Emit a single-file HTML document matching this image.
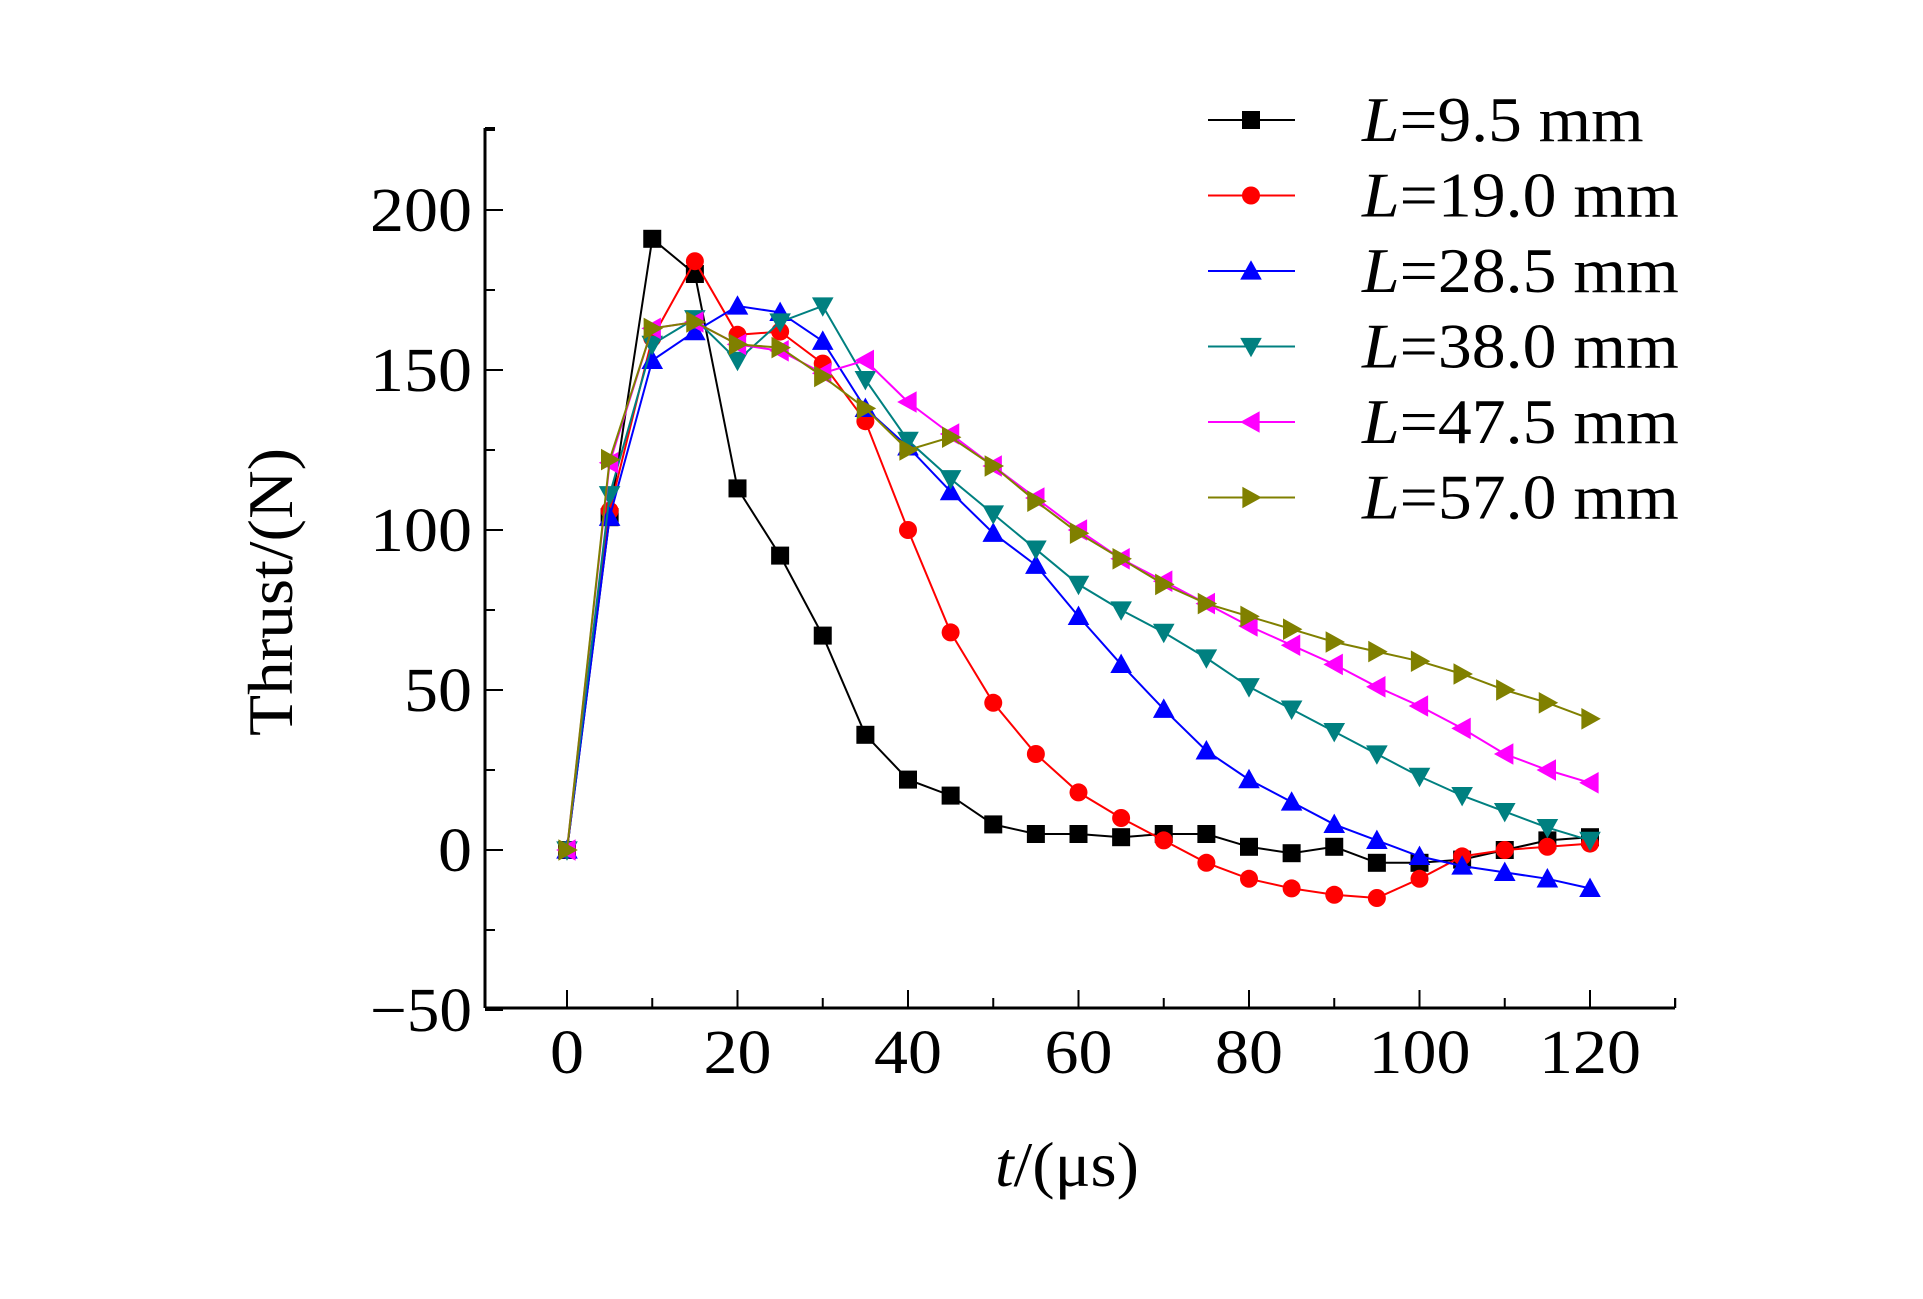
<!DOCTYPE html>
<html><head><meta charset="utf-8"><style>
html,body{margin:0;padding:0;background:#fff}
svg{display:block}
text{font-family:"Liberation Serif",serif;fill:#000}
</style></head><body>
<svg id="chart" width="1923" height="1299" viewBox="0 0 1923 1299" xmlns="http://www.w3.org/2000/svg"></svg>
<script>
const times = [0,5,10,15,20,25,30,35,40,45,50,55,60,65,70,75,80,85,90,95,100,105,110,115,120];
const s95 = [0,104,191,180,113,92,67,36,22,17,8,5,5,4,5,5,1,-1,1,-4,-4,-3,0,3,4];
const s190 = [0,106,160,184,161,162,152,134,100,68,46,30,18,10,3,-4,-9,-12,-14,-15,-9,-2,0,1,2];
const s285 = [0,104,153,162,170,168,159,138,126,112,99,89,73,58,44,31,22,15,8,3,-2,-5,-7,-9,-12];
const s380 = [0,111,158,166,153,165,170,147,128,116,105,94,83,75,68,60,51,44,37,30,23,17,12,7,3];
const s475 = [0,121,163,165,158,156,149,153,140,130,120,110,100,91,84,77,70,64,58,51,45,38,30,25,21];
const s570 = [0,122,163,165,158,157,148,138,125,129,120,109,99,91,83,77,73,69,65,62,59,55,50,46,41];
const seriesLabels = ["9.5","19.0","28.5","38.0","47.5","57.0"];
const yTicks = [-50,0,50,100,150,200];
const xTicks = [0,20,40,60,80,100,120];

const series = [
 {v:s95,c:"#000000",m:"square",n:"series-9-5mm"},
 {v:s190,c:"#ff0000",m:"circle",n:"series-19-0mm"},
 {v:s285,c:"#0000ff",m:"up",n:"series-28-5mm"},
 {v:s380,c:"#008080",m:"down",n:"series-38-0mm"},
 {v:s475,c:"#ff00ff",m:"left",n:"series-47-5mm"},
 {v:s570,c:"#808000",m:"right",n:"series-57-0mm"}
];
const X0=567,XS=(1590-567)/120, Y0=850, YS=(850-210)/200;
const xp=t=>X0+t*XS, yp=v=>Y0-v*YS;
const L=485,R=1675,T=128,B=1008;
const svg=document.getElementById('chart');
const NS="http://www.w3.org/2000/svg";
function el(tag,attrs,parent){const e=document.createElementNS(NS,tag);for(const k in attrs)e.setAttribute(k,attrs[k]);(parent||svg).appendChild(e);return e;}

const axes=el('g',{});


const ya=el('line',{x1:L,y1:T,x2:L,y2:B,stroke:'#000','stroke-width':3},axes);


const xa=el('line',{x1:L,y1:B,x2:R,y2:B,stroke:'#000','stroke-width':3},axes);


el('line',{x1:L,y1:T,x2:L+10,y2:T,stroke:'#000','stroke-width':2},axes);
for(let v=-50;v<=225;v+=25){
  const major=v%50===0;
  el('line',{x1:L,y1:yp(v),x2:L+(major?18:10),y2:yp(v),stroke:'#000','stroke-width':2},axes);
}
yTicks.forEach(v=>{
  const s=v<0?'\u2212'+(-v):String(v);
  const t=el('text',{x:L-13,y:yp(v)+21,'text-anchor':'end','font-size':62,textLength:s.length*34,lengthAdjust:'spacingAndGlyphs'},axes);
  
  
  t.textContent=s;
});
for(let v=0;v<=130;v+=10){
  const major=v%20===0;
  el('line',{x1:xp(v),y1:B,x2:xp(v),y2:B-(major?18:10),stroke:'#000','stroke-width':2},axes);
}
el('line',{x1:R,y1:B,x2:R,y2:B-10,stroke:'#000','stroke-width':2},axes);
xTicks.forEach(v=>{
  const s=String(v);
  const t=el('text',{x:xp(v),y:B+65,'text-anchor':'middle','font-size':62,textLength:s.length*34,lengthAdjust:'spacingAndGlyphs'},axes);
  
  
  t.textContent=s;
});
const yt=el('text',{x:0,y:0,'text-anchor':'middle','font-size':64,textLength:288,lengthAdjust:'spacingAndGlyphs',transform:'translate(292,592) rotate(-90)'});


yt.textContent='Thrust/(N)';
const xt=el('text',{x:1067,y:1186,'text-anchor':'middle','font-size':64,textLength:144,lengthAdjust:'spacingAndGlyphs'});


xt.innerHTML='<tspan font-style="italic">t</tspan>/(\u03bcs)';

function marker(g,type,x,y,c,s){
  let e;
  if(type==='square') e=el('rect',{x:x-s,y:y-s,width:2*s,height:2*s,fill:c},g);
  else if(type==='circle') e=el('circle',{cx:x,cy:y,r:s,fill:c},g);
  else {
    const k=s*1.2;let p;
    if(type==='up') p=[[x,y-k],[x-k,y+k*0.8],[x+k,y+k*0.8]];
    if(type==='down') p=[[x,y+k],[x-k,y-k*0.8],[x+k,y-k*0.8]];
    if(type==='left') p=[[x-k,y],[x+k*0.8,y-k],[x+k*0.8,y+k]];
    if(type==='right') p=[[x+k,y],[x-k*0.8,y-k],[x-k*0.8,y+k]];
    e=el('polygon',{points:p.map(q=>q.join(',')).join(' '),fill:c},g);
  }
  return e;
}
series.forEach(s=>{
  const g=el('g',{});
  
  
  const pl=el('polyline',{points:s.v.map((v,i)=>xp(times[i])+','+yp(v)).join(' '),fill:'none',stroke:s.c,'stroke-width':2},g);
  
  
  s.v.forEach((v,i)=>{
    const m=marker(g,s.m,xp(times[i]),yp(v),s.c,9);
    
    
  });
});
// legend
const lg=el('g',{});


series.forEach((s,i)=>{
  const y=120+i*75.5;
  const g=el('g',{},lg);
  
  
  el('line',{x1:1208,y1:y,x2:1295,y2:y,stroke:s.c,'stroke-width':2},g);
  marker(g,s.m,1251,y,s.c,9);
  const txt=seriesLabels[i]+' mm';
  const t=el('text',{x:1362,y:y+21,'font-size':64,textLength:(txt.length+2)*35.2,lengthAdjust:'spacingAndGlyphs'},g);
  t.innerHTML='<tspan font-style="italic">L</tspan>='+txt;
});
</script>
</body></html>
